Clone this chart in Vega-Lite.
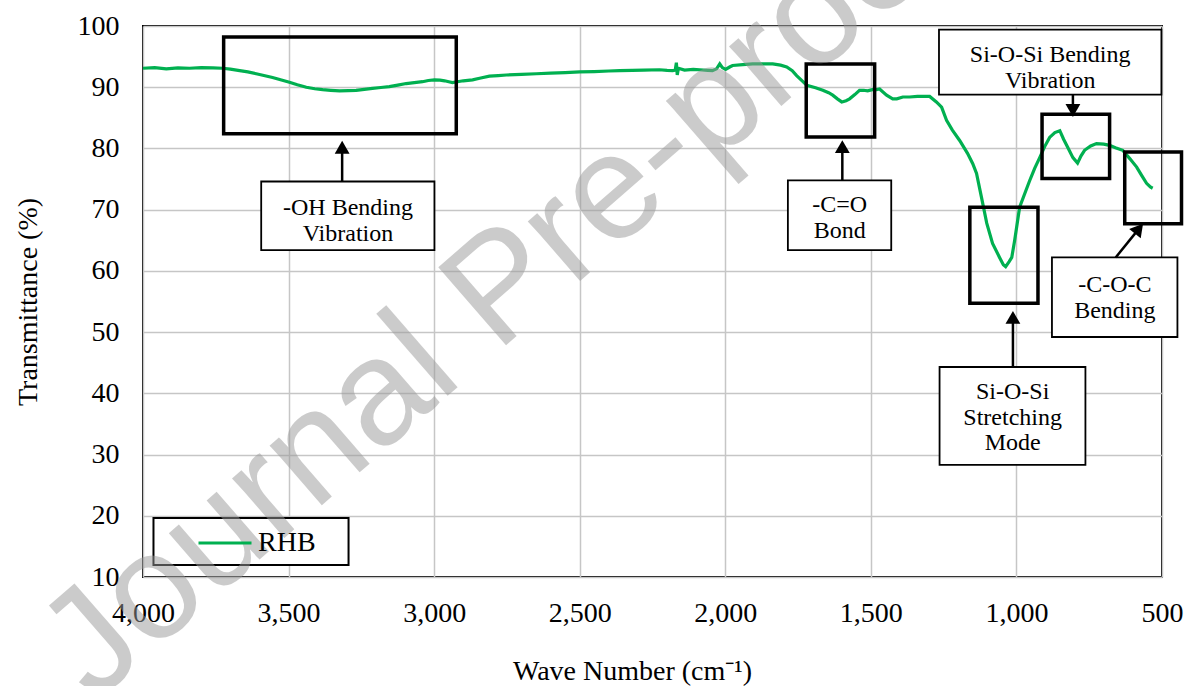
{
  "$schema": "https://vega.github.io/schema/vega-lite/v6.json",
  "width": 1019,
  "height": 551,
  "autosize": {"type": "none"},
  "padding": {"left": 143, "top": 26, "right": 27, "bottom": 109},
  "background": "white",
  "config": {
    "view": {"stroke": "#000000", "strokeWidth": 2},
    "font": "Liberation Serif"
  },
  "datasets": {
    "spectrum": [
      {"wn": 4000, "t": 93.1, "s": "RHB"}, {"wn": 3960, "t": 93.2, "s": "RHB"}, {"wn": 3920, "t": 93.0, "s": "RHB"},
      {"wn": 3880, "t": 93.15, "s": "RHB"}, {"wn": 3840, "t": 93.1, "s": "RHB"}, {"wn": 3800, "t": 93.2, "s": "RHB"},
      {"wn": 3760, "t": 93.15, "s": "RHB"}, {"wn": 3727, "t": 93.1, "s": "RHB"}, {"wn": 3700, "t": 92.95, "s": "RHB"},
      {"wn": 3668, "t": 92.7, "s": "RHB"}, {"wn": 3640, "t": 92.5, "s": "RHB"}, {"wn": 3611, "t": 92.2, "s": "RHB"},
      {"wn": 3555, "t": 91.6, "s": "RHB"}, {"wn": 3497, "t": 90.8, "s": "RHB"}, {"wn": 3470, "t": 90.4, "s": "RHB"},
      {"wn": 3439, "t": 90.0, "s": "RHB"}, {"wn": 3410, "t": 89.75, "s": "RHB"}, {"wn": 3383, "t": 89.6, "s": "RHB"},
      {"wn": 3355, "t": 89.5, "s": "RHB"}, {"wn": 3325, "t": 89.4, "s": "RHB"}, {"wn": 3295, "t": 89.45, "s": "RHB"},
      {"wn": 3268, "t": 89.5, "s": "RHB"}, {"wn": 3240, "t": 89.65, "s": "RHB"}, {"wn": 3212, "t": 89.8, "s": "RHB"},
      {"wn": 3183, "t": 89.95, "s": "RHB"}, {"wn": 3154, "t": 90.1, "s": "RHB"}, {"wn": 3125, "t": 90.35, "s": "RHB"},
      {"wn": 3096, "t": 90.6, "s": "RHB"}, {"wn": 3068, "t": 90.75, "s": "RHB"}, {"wn": 3040, "t": 90.9, "s": "RHB"},
      {"wn": 3020, "t": 91.1, "s": "RHB"}, {"wn": 2999, "t": 91.2, "s": "RHB"}, {"wn": 2980, "t": 91.15, "s": "RHB"},
      {"wn": 2964, "t": 91.05, "s": "RHB"}, {"wn": 2950, "t": 90.9, "s": "RHB"}, {"wn": 2937, "t": 90.75, "s": "RHB"},
      {"wn": 2920, "t": 90.9, "s": "RHB"}, {"wn": 2900, "t": 91.05, "s": "RHB"}, {"wn": 2868, "t": 91.2, "s": "RHB"},
      {"wn": 2840, "t": 91.5, "s": "RHB"}, {"wn": 2810, "t": 91.8, "s": "RHB"}, {"wn": 2780, "t": 91.9, "s": "RHB"},
      {"wn": 2752, "t": 92.0, "s": "RHB"}, {"wn": 2700, "t": 92.1, "s": "RHB"}, {"wn": 2649, "t": 92.2, "s": "RHB"},
      {"wn": 2600, "t": 92.3, "s": "RHB"}, {"wn": 2550, "t": 92.4, "s": "RHB"}, {"wn": 2500, "t": 92.5, "s": "RHB"},
      {"wn": 2450, "t": 92.55, "s": "RHB"}, {"wn": 2400, "t": 92.65, "s": "RHB"}, {"wn": 2363, "t": 92.7, "s": "RHB"},
      {"wn": 2320, "t": 92.75, "s": "RHB"}, {"wn": 2280, "t": 92.8, "s": "RHB"}, {"wn": 2226, "t": 92.85, "s": "RHB"},
      {"wn": 2200, "t": 92.75, "s": "RHB"}, {"wn": 2181, "t": 92.7, "s": "RHB"}, {"wn": 2172, "t": 92.8, "s": "RHB"},
      {"wn": 2168, "t": 94.0, "s": "RHB"}, {"wn": 2165, "t": 92.0, "s": "RHB"}, {"wn": 2161, "t": 93.1, "s": "RHB"},
      {"wn": 2140, "t": 92.8, "s": "RHB"}, {"wn": 2110, "t": 92.9, "s": "RHB"}, {"wn": 2088, "t": 92.85, "s": "RHB"},
      {"wn": 2060, "t": 92.75, "s": "RHB"}, {"wn": 2044, "t": 92.7, "s": "RHB"}, {"wn": 2030, "t": 93.0, "s": "RHB"},
      {"wn": 2019, "t": 93.8, "s": "RHB"}, {"wn": 2010, "t": 93.2, "s": "RHB"}, {"wn": 1999, "t": 92.9, "s": "RHB"},
      {"wn": 1985, "t": 93.3, "s": "RHB"}, {"wn": 1975, "t": 93.55, "s": "RHB"}, {"wn": 1940, "t": 93.7, "s": "RHB"},
      {"wn": 1906, "t": 93.8, "s": "RHB"}, {"wn": 1870, "t": 93.8, "s": "RHB"}, {"wn": 1837, "t": 93.8, "s": "RHB"},
      {"wn": 1810, "t": 93.6, "s": "RHB"}, {"wn": 1789, "t": 93.3, "s": "RHB"}, {"wn": 1770, "t": 92.7, "s": "RHB"},
      {"wn": 1755, "t": 91.9, "s": "RHB"}, {"wn": 1735, "t": 91.0, "s": "RHB"}, {"wn": 1720, "t": 90.3, "s": "RHB"},
      {"wn": 1690, "t": 89.9, "s": "RHB"}, {"wn": 1665, "t": 89.5, "s": "RHB"}, {"wn": 1645, "t": 89.1, "s": "RHB"},
      {"wn": 1631, "t": 88.7, "s": "RHB"}, {"wn": 1615, "t": 88.1, "s": "RHB"}, {"wn": 1600, "t": 87.6, "s": "RHB"},
      {"wn": 1585, "t": 87.8, "s": "RHB"}, {"wn": 1573, "t": 88.1, "s": "RHB"}, {"wn": 1555, "t": 88.8, "s": "RHB"},
      {"wn": 1539, "t": 89.5, "s": "RHB"}, {"wn": 1525, "t": 89.5, "s": "RHB"}, {"wn": 1511, "t": 89.4, "s": "RHB"},
      {"wn": 1495, "t": 89.6, "s": "RHB"}, {"wn": 1480, "t": 89.6, "s": "RHB"}, {"wn": 1470, "t": 89.7, "s": "RHB"},
      {"wn": 1446, "t": 88.7, "s": "RHB"}, {"wn": 1425, "t": 88.1, "s": "RHB"}, {"wn": 1411, "t": 88.1, "s": "RHB"},
      {"wn": 1390, "t": 88.4, "s": "RHB"}, {"wn": 1367, "t": 88.4, "s": "RHB"}, {"wn": 1340, "t": 88.5, "s": "RHB"},
      {"wn": 1322, "t": 88.5, "s": "RHB"}, {"wn": 1298, "t": 88.5, "s": "RHB"}, {"wn": 1275, "t": 87.6, "s": "RHB"},
      {"wn": 1257, "t": 86.75, "s": "RHB"}, {"wn": 1240, "t": 84.6, "s": "RHB"}, {"wn": 1220, "t": 83.0, "s": "RHB"},
      {"wn": 1195, "t": 81.3, "s": "RHB"}, {"wn": 1168, "t": 79.2, "s": "RHB"}, {"wn": 1150, "t": 77.5, "s": "RHB"},
      {"wn": 1137, "t": 75.9, "s": "RHB"}, {"wn": 1120, "t": 72.0, "s": "RHB"}, {"wn": 1102, "t": 67.8, "s": "RHB"},
      {"wn": 1082, "t": 64.5, "s": "RHB"}, {"wn": 1058, "t": 62.2, "s": "RHB"}, {"wn": 1045, "t": 61.0, "s": "RHB"},
      {"wn": 1037, "t": 60.7, "s": "RHB"}, {"wn": 1025, "t": 61.5, "s": "RHB"}, {"wn": 1016, "t": 62.2, "s": "RHB"},
      {"wn": 1006, "t": 65.0, "s": "RHB"}, {"wn": 989, "t": 70.4, "s": "RHB"}, {"wn": 970, "t": 72.8, "s": "RHB"},
      {"wn": 954, "t": 74.8, "s": "RHB"}, {"wn": 937, "t": 76.8, "s": "RHB"}, {"wn": 920, "t": 78.5, "s": "RHB"},
      {"wn": 903, "t": 80.3, "s": "RHB"}, {"wn": 886, "t": 81.8, "s": "RHB"}, {"wn": 868, "t": 82.6, "s": "RHB"},
      {"wn": 851, "t": 82.9, "s": "RHB"}, {"wn": 838, "t": 81.5, "s": "RHB"}, {"wn": 824, "t": 80.2, "s": "RHB"},
      {"wn": 806, "t": 78.5, "s": "RHB"}, {"wn": 790, "t": 77.6, "s": "RHB"}, {"wn": 778, "t": 78.8, "s": "RHB"},
      {"wn": 766, "t": 79.7, "s": "RHB"}, {"wn": 745, "t": 80.4, "s": "RHB"}, {"wn": 725, "t": 80.8, "s": "RHB"},
      {"wn": 700, "t": 80.7, "s": "RHB"}, {"wn": 680, "t": 80.5, "s": "RHB"}, {"wn": 660, "t": 80.1, "s": "RHB"},
      {"wn": 635, "t": 79.7, "s": "RHB"}, {"wn": 610, "t": 78.3, "s": "RHB"}, {"wn": 587, "t": 76.95, "s": "RHB"},
      {"wn": 570, "t": 75.6, "s": "RHB"}, {"wn": 553, "t": 74.3, "s": "RHB"}, {"wn": 540, "t": 73.7, "s": "RHB"},
      {"wn": 532, "t": 73.5, "s": "RHB"}
    ],
    "boxes": [
      {"wn": 3723, "wn2": 2924, "t": 98.2, "t2": 82.4},
      {"wn": 1722, "wn2": 1487, "t": 93.8, "t2": 81.85},
      {"wn": 912, "wn2": 680, "t": 85.6, "t2": 75.1},
      {"wn": 628, "wn2": 433, "t": 79.4, "t2": 67.7},
      {"wn": 1160, "wn2": 926, "t": 70.4, "t2": 54.7}
    ],
    "textboxes": [
      {"wn": 3594, "wn2": 2999, "t": 74.6, "t2": 63.4},
      {"wn": 1785, "wn2": 1430, "t": 74.8, "t2": 63.4},
      {"wn": 1266, "wn2": 502, "t": 99.4, "t2": 88.8},
      {"wn": 878, "wn2": 447, "t": 62.2, "t2": 49.2},
      {"wn": 1264, "wn2": 763, "t": 44.3, "t2": 28.3}
    ],
    "legendbox": [
      {"wn": 3964, "wn2": 3294, "t": 19.63, "t2": 11.96}
    ],
    "labels": [
      {"wn": 3296, "t": 70.2, "label": "-OH Bending\nVibration"},
      {"wn": 1607, "t": 70.7, "label": "-C=O\nBond"},
      {"wn": 884, "t": 95.2, "label": "Si-O-Si Bending\nVibration"},
      {"wn": 662, "t": 57.65, "label": "-C-O-C\nBending"},
      {"wn": 1013, "t": 40.2, "label": "Si-O-Si\nStretching\nMode"}
    ],
    "arrows": [
      {"wn": 3316, "wn2": 3316, "t": 74.6, "t2": 80.2},
      {"wn": 1598, "wn2": 1598, "t": 74.8, "t2": 80.3},
      {"wn": 806, "wn2": 806, "t": 88.8, "t2": 86.2},
      {"wn": 1012, "wn2": 1012, "t": 44.3, "t2": 52.4},
      {"wn": 659, "wn2": 579, "t": 62.2, "t2": 66.9}
    ],
    "headsUp": [
      {"wn": 3316, "t": 80.2},
      {"wn": 1598, "t": 80.3},
      {"wn": 1012, "t": 52.4}
    ],
    "headsDown": [
      {"wn": 806, "t": 86.2}
    ],
    "headsDiag": [
      {"wn": 579, "t": 66.9}
    ],
    "watermark": [
      {"wn": 2768, "t": 57.0, "text": "Journal Pre-proof"}
    ]
  },
  "layer": [
    {
      "data": {"name": "spectrum"},
      "mark": {"type": "line", "strokeWidth": 3.2, "interpolate": "linear"},
      "encoding": {
        "x": {
          "field": "wn", "type": "quantitative",
          "scale": {"domain": [500, 4000], "reverse": true, "nice": false, "zero": false},
          "axis": {
            "title": "Wave Number (cm⁻¹)",
            "values": [4000, 3500, 3000, 2500, 2000, 1500, 1000, 500],
            "format": ",d",
            "ticks": false, "domain": false,
            "grid": true, "gridColor": "#c6c6c6", "gridWidth": 1.5,
            "labelFont": "Liberation Serif", "labelFontSize": 28, "labelColor": "#000000",
            "labelPadding": 22, "labelFlush": false, "labelOverlap": false,
            "titleFont": "Liberation Serif", "titleFontSize": 28, "titleFontWeight": "normal",
            "titleColor": "#000000", "titlePadding": 30, "titleX": 489
          }
        },
        "y": {
          "field": "t", "type": "quantitative",
          "scale": {"domain": [10, 100], "nice": false, "zero": false},
          "axis": {
            "title": "Transmittance (%)",
            "values": [10, 20, 30, 40, 50, 60, 70, 80, 90, 100],
            "ticks": false, "domain": false,
            "grid": true, "gridColor": "#c6c6c6", "gridWidth": 1.5,
            "labelFont": "Liberation Serif", "labelFontSize": 28, "labelColor": "#000000",
            "labelPadding": 24, "labelFlush": false, "labelOverlap": false,
            "titleFont": "Liberation Serif", "titleFontSize": 28, "titleFontWeight": "normal",
            "titleColor": "#000000", "titlePadding": 35
          }
        },
        "color": {
          "field": "s", "type": "nominal",
          "scale": {"domain": ["RHB"], "range": ["#00b050"]},
          "legend": {
            "title": null,
            "orient": "bottom-left",
            "offset": 20,
            "padding": 0,
            "symbolType": "stroke",
            "symbolSize": 2809,
            "symbolStrokeWidth": 3,
            "symbolOffset": 34,
            "labelOffset": 5,
            "labelFont": "Liberation Serif",
            "labelFontSize": 28,
            "labelColor": "#000000"
          }
        }
      }
    },
    {
      "data": {"name": "boxes"},
      "mark": {"type": "rect", "fill": null, "stroke": "#000000", "strokeWidth": 3.5},
      "encoding": {
        "x": {"field": "wn", "type": "quantitative"},
        "x2": {"field": "wn2"},
        "y": {"field": "t", "type": "quantitative"},
        "y2": {"field": "t2"}
      }
    },
    {
      "data": {"name": "textboxes"},
      "mark": {"type": "rect", "fill": "#ffffff", "stroke": "#000000", "strokeWidth": 1.8},
      "encoding": {
        "x": {"field": "wn", "type": "quantitative"},
        "x2": {"field": "wn2"},
        "y": {"field": "t", "type": "quantitative"},
        "y2": {"field": "t2"}
      }
    },
    {
      "data": {"name": "legendbox"},
      "mark": {"type": "rect", "fill": "#ffffff", "stroke": "#000000", "strokeWidth": 2},
      "encoding": {
        "x": {"field": "wn", "type": "quantitative"},
        "x2": {"field": "wn2"},
        "y": {"field": "t", "type": "quantitative"},
        "y2": {"field": "t2"}
      }
    },
    {
      "data": {"name": "arrows"},
      "mark": {"type": "rule", "stroke": "#000000", "strokeWidth": 2.5},
      "encoding": {
        "x": {"field": "wn", "type": "quantitative"},
        "x2": {"field": "wn2"},
        "y": {"field": "t", "type": "quantitative"},
        "y2": {"field": "t2"}
      }
    },
    {
      "data": {"name": "headsUp"},
      "mark": {"type": "point", "shape": "triangle-up", "filled": true, "fill": "#000000", "opacity": 1, "size": 220, "strokeWidth": 0},
      "encoding": {
        "x": {"field": "wn", "type": "quantitative"},
        "y": {"field": "t", "type": "quantitative"}
      }
    },
    {
      "data": {"name": "headsDown"},
      "mark": {"type": "point", "shape": "triangle-down", "filled": true, "fill": "#000000", "opacity": 1, "size": 220, "strokeWidth": 0},
      "encoding": {
        "x": {"field": "wn", "type": "quantitative"},
        "y": {"field": "t", "type": "quantitative"}
      }
    },
    {
      "data": {"name": "headsDiag"},
      "mark": {"type": "point", "shape": "triangle-up", "angle": 39, "filled": true, "fill": "#000000", "opacity": 1, "size": 220, "strokeWidth": 0},
      "encoding": {
        "x": {"field": "wn", "type": "quantitative"},
        "y": {"field": "t", "type": "quantitative"}
      }
    },
    {
      "data": {"name": "labels"},
      "mark": {"type": "text", "font": "Liberation Serif", "fontSize": 24, "lineHeight": 25.5, "lineBreak": "\n", "align": "center", "baseline": "middle", "color": "#000000"},
      "encoding": {
        "x": {"field": "wn", "type": "quantitative"},
        "y": {"field": "t", "type": "quantitative"},
        "text": {"field": "label"}
      }
    },
    {
      "data": {"name": "watermark"},
      "mark": {"type": "text", "font": "Liberation Sans", "fontSize": 150, "angle": -41, "align": "center", "baseline": "middle", "color": "#999999", "opacity": 0.5},
      "encoding": {
        "x": {"field": "wn", "type": "quantitative"},
        "y": {"field": "t", "type": "quantitative"},
        "text": {"field": "text"}
      }
    }
  ]
}
